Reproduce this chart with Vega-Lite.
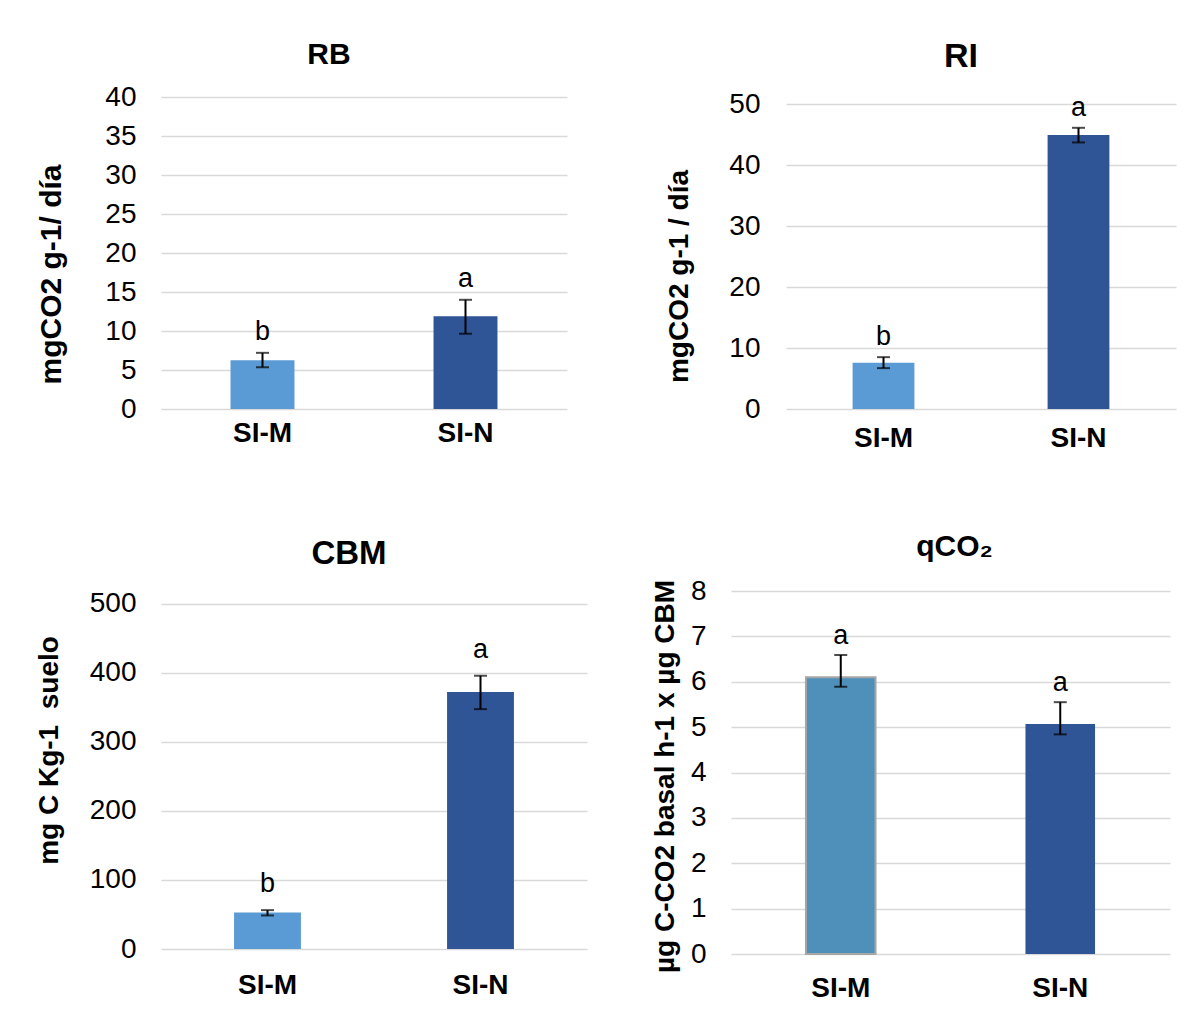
{
  "$schema": "https://vega.github.io/schema/vega-lite/v6.json",
  "padding": {"left": 35, "top": 40, "right": 5, "bottom": 5},
  "background": "white",
  "config": {
    "font": "Liberation Sans",
    "view": {"stroke": null},
    "axis": {"domain": false, "ticks": false, "gridColor": "#D9D9D9", "gridWidth": 1.5, "labelColor": "#000000", "titleColor": "#000000"},
    "axisY": {"labelFontSize": 28, "titleFontSize": 28, "titleFontWeight": "bold", "grid": true, "labelPadding": 25, "labelOverlap": false},
    "axisX": {"labelFontSize": 28, "labelFontWeight": "bold", "grid": false, "labelAngle": 0, "title": null},
    "title": {"fontWeight": "bold", "color": "#000000", "frame": "group", "anchor": "middle"},
    "errorbar": {"ticks": {"size": 13, "thickness": 2, "color": "#000000"}, "rule": {"strokeWidth": 2, "color": "#000000"}}
  },
  "spacing": 80,
  "vconcat": [
    {
      "bounds": "flush",
      "spacing": 219,
      "hconcat": [
        {
          "width": 406, "height": 312,
          "title": {"text": "RB", "fontSize": 30, "dx": -35, "offset": 13},
          "data": {"values": [
            {"trt": "SI-M", "mean": 6.25, "lo": 5.35, "hi": 7.2, "sig": "b"},
            {"trt": "SI-N", "mean": 11.9, "lo": 9.65, "hi": 14.0, "sig": "a"}
          ]},
          "encoding": {"x": {"field": "trt", "type": "nominal", "sort": ["SI-M", "SI-N"], "scale": {"paddingInner": 0.685, "paddingOuter": 0.3425}, "axis": {"labelPadding": 10}}},
          "layer": [
            {"mark": {"type": "bar"}, "encoding": {
              "y": {"field": "mean", "type": "quantitative", "title": "mgCO2 g-1/ día", "scale": {"domain": [0, 40], "nice": false}, "axis": {"values": [0, 5, 10, 15, 20, 25, 30, 35, 40], "titlePadding": 38, "titleY": 177, "titleFontSize": 30}},
              "color": {"condition": {"test": "datum.trt === 'SI-M'", "value": "#5B9BD5"}, "value": "#2F5597"}}},
            {"mark": {"type": "errorbar"}, "encoding": {"y": {"field": "lo", "type": "quantitative", "title": "mgCO2 g-1/ día", "scale": {"domain": [0, 40], "nice": false}, "axis": {"values": [0, 5, 10, 15, 20, 25, 30, 35, 40], "titlePadding": 38, "titleY": 177, "titleFontSize": 30}}, "y2": {"field": "hi"}}},
            {"mark": {"type": "text", "baseline": "alphabetic", "dy": -13, "fontSize": 27}, "encoding": {"y": {"field": "hi", "type": "quantitative", "title": "mgCO2 g-1/ día", "scale": {"domain": [0, 40], "nice": false}, "axis": {"values": [0, 5, 10, 15, 20, 25, 30, 35, 40], "titlePadding": 38, "titleY": 177, "titleFontSize": 30}}, "text": {"field": "sig"}}}
          ]
        },
        {
          "width": 390, "height": 312,
          "title": {"text": "RI", "fontSize": 34, "dx": -20, "offset": 16},
          "data": {"values": [
            {"trt": "SI-M", "mean": 7.6, "lo": 6.7, "hi": 8.5, "sig": "b"},
            {"trt": "SI-N", "mean": 44.9, "lo": 43.7, "hi": 46.1, "sig": "a"}
          ]},
          "encoding": {"x": {"field": "trt", "type": "nominal", "sort": ["SI-M", "SI-N"], "scale": {"paddingInner": 0.683, "paddingOuter": 0.3415}, "axis": {"labelPadding": 15}}},
          "layer": [
            {"mark": {"type": "bar"}, "encoding": {
              "y": {"field": "mean", "type": "quantitative", "title": "mgCO2 g-1 / día", "scale": {"domain": [0, 51.15], "nice": false}, "axis": {"values": [0, 10, 20, 30, 40, 50], "titlePadding": 35, "titleY": 179, "labelPadding": 26}},
              "color": {"condition": {"test": "datum.trt === 'SI-M'", "value": "#5B9BD5"}, "value": "#2F5597"}}},
            {"mark": {"type": "errorbar"}, "encoding": {"y": {"field": "lo", "type": "quantitative", "title": "mgCO2 g-1 / día", "scale": {"domain": [0, 51.15], "nice": false}, "axis": {"values": [0, 10, 20, 30, 40, 50], "titlePadding": 35, "titleY": 179, "labelPadding": 26}}, "y2": {"field": "hi"}}},
            {"mark": {"type": "text", "baseline": "alphabetic", "dy": -12, "fontSize": 27}, "encoding": {"y": {"field": "hi", "type": "quantitative", "title": "mgCO2 g-1 / día", "scale": {"domain": [0, 51.15], "nice": false}, "axis": {"values": [0, 10, 20, 30, 40, 50], "titlePadding": 35, "titleY": 179, "labelPadding": 26}}, "text": {"field": "sig"}}}
          ]
        }
      ]
    },
    {
      "bounds": "flush",
      "spacing": 144,
      "hconcat": [
        {
          "width": 426, "height": 358,
          "title": {"text": "CBM", "fontSize": 33, "dx": -25, "offset": 19},
          "data": {"values": [
            {"trt": "SI-M", "mean": 53, "lo": 48.6, "hi": 56.3, "sig": "b"},
            {"trt": "SI-N", "mean": 372.5, "lo": 347.6, "hi": 396, "sig": "a"}
          ]},
          "encoding": {"x": {"field": "trt", "type": "nominal", "sort": ["SI-M", "SI-N"], "scale": {"paddingInner": 0.686, "paddingOuter": 0.343}, "axis": {"labelPadding": 22}}},
          "layer": [
            {"mark": {"type": "bar"}, "encoding": {
              "y": {"field": "mean", "type": "quantitative", "title": "mg C Kg-1\u00a0 suelo", "scale": {"domain": [0, 518.8], "nice": false}, "axis": {"values": [0, 100, 200, 300, 400, 500], "titlePadding": 26, "titleY": 159}},
              "color": {"condition": {"test": "datum.trt === 'SI-M'", "value": "#5B9BD5"}, "value": "#2F5597"}}},
            {"mark": {"type": "errorbar"}, "encoding": {"y": {"field": "lo", "type": "quantitative", "title": "mg C Kg-1\u00a0 suelo", "scale": {"domain": [0, 518.8], "nice": false}, "axis": {"values": [0, 100, 200, 300, 400, 500], "titlePadding": 26, "titleY": 159}}, "y2": {"field": "hi"}}},
            {"mark": {"type": "text", "baseline": "alphabetic", "dy": -18, "fontSize": 27}, "encoding": {"y": {"field": "hi", "type": "quantitative", "title": "mg C Kg-1\u00a0 suelo", "scale": {"domain": [0, 518.8], "nice": false}, "axis": {"values": [0, 100, 200, 300, 400, 500], "titlePadding": 26, "titleY": 159}}, "text": {"field": "sig"}}}
          ]
        },
        {
          "width": 439, "height": 363,
          "title": {"text": "qCO₂", "fontSize": 30, "dx": 4, "offset": 15},
          "data": {"values": [
            {"trt": "SI-M", "mean": 6.1, "lo": 5.89, "hi": 6.59, "sig": "a"},
            {"trt": "SI-N", "mean": 5.07, "lo": 4.84, "hi": 5.55, "sig": "a"}
          ]},
          "encoding": {"x": {"field": "trt", "type": "nominal", "sort": ["SI-M", "SI-N"], "scale": {"paddingInner": 0.683, "paddingOuter": 0.3415}, "axis": {"labelPadding": 20}}},
          "layer": [
            {"mark": {"type": "bar", "strokeWidth": 2}, "encoding": {
              "y": {"field": "mean", "type": "quantitative", "title": "µg C-CO2 basal h-1 x µg CBM", "scale": {"domain": [0, 8], "nice": false}, "axis": {"values": [0, 1, 2, 3, 4, 5, 6, 7, 8], "titlePadding": 11, "titleY": 185}},
              "color": {"condition": {"test": "datum.trt === 'SI-M'", "value": "#4E90BA"}, "value": "#2F5597"},
              "stroke": {"condition": {"test": "datum.trt === 'SI-M'", "value": "#A6A6A6"}, "value": null}}},
            {"mark": {"type": "errorbar"}, "encoding": {"y": {"field": "lo", "type": "quantitative", "title": "µg C-CO2 basal h-1 x µg CBM", "scale": {"domain": [0, 8], "nice": false}, "axis": {"values": [0, 1, 2, 3, 4, 5, 6, 7, 8], "titlePadding": 11, "titleY": 185}}, "y2": {"field": "hi"}}},
            {"mark": {"type": "text", "baseline": "alphabetic", "dy": -11, "fontSize": 27}, "encoding": {"y": {"field": "hi", "type": "quantitative", "title": "µg C-CO2 basal h-1 x µg CBM", "scale": {"domain": [0, 8], "nice": false}, "axis": {"values": [0, 1, 2, 3, 4, 5, 6, 7, 8], "titlePadding": 11, "titleY": 185}}, "text": {"field": "sig"}}}
          ]
        }
      ]
    }
  ]
}
